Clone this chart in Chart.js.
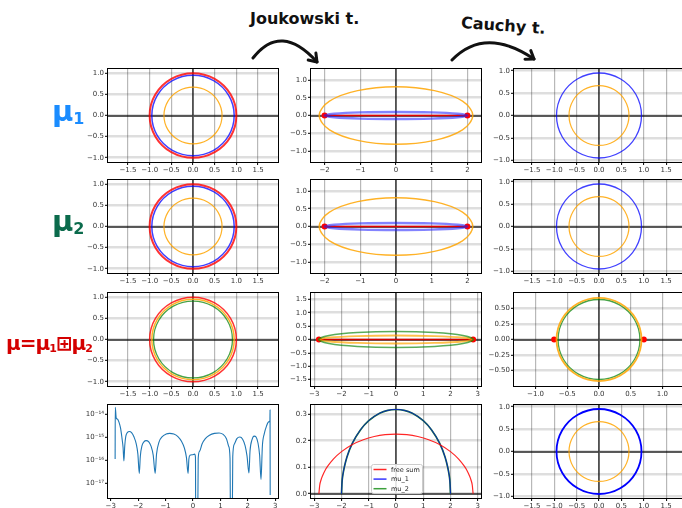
<!DOCTYPE html>
<html lang="en">
<head>
<meta charset="UTF-8">
<title>Joukowski and Cauchy transforms</title>
<script src="https://cdn.jsdelivr.net/npm/chart.js@4.4.1/dist/chart.umd.min.js"></script>
<style>
  html, body { margin: 0; padding: 0; background: #fff; }
  body { width: 682px; height: 508px; position: relative; overflow: hidden; }
  .panel { position: absolute; }
  .hand { position: absolute; font-family: "DejaVu Sans", sans-serif; font-weight: bold; white-space: nowrap; line-height: 1; }
  .hand sub { font-size: 0.55em; vertical-align: -0.2em; }
  #arrows { position: absolute; left: 0; top: 0; pointer-events: none; }
</style>
</head>
<body>
<div id="figure"></div>

<!-- hand written notes -->
<div class="hand" style="left:250px; top:11px; font-size:16px; color:#111;">Joukowski t.</div>
<div class="hand" style="left:461px; top:18px; font-size:16px; color:#111; transform:rotate(4deg);">Cauchy t.</div>
<div class="hand" style="left:52px; top:97px; font-size:29px; color:#1a8cff;">μ<sub>1</sub></div>
<div class="hand" style="left:52px; top:207px; font-size:29px; color:#0b6b4c;">μ<sub>2</sub></div>
<div class="hand" style="left:6px; top:333px; font-size:20px; color:#d40000; letter-spacing:-1px;">μ=μ<sub>1</sub>⊞μ<sub>2</sub></div>

<svg id="arrows" width="682" height="508">
  <g fill="none" stroke="#111" stroke-width="3" stroke-linecap="round" stroke-linejoin="round">
    <path d="M253,58 Q281,22 317,62" />
    <path d="M315.9,53.1 L317,62 L308.2,60" />
    <path d="M452,60 Q485,26 534,59" />
    <path d="M530.8,50.6 L534,59 L525,59.2" />
  </g>
</svg>

<script>
// ---------- values ----------
// closed curves are listed every 30 degrees, with one point of overlap at each end
// z-plane circles (columns 1 and 3)
const circle100 = [[0.866,-0.5],[1,0],[0.866,0.5],[0.5,0.866],[0,1],[-0.5,0.866],[-0.866,0.5],[-1,0],[-0.866,-0.5],[-0.5,-0.866],[0,-1],[0.5,-0.866],[0.866,-0.5],[1,0],[0.866,0.5]];
const circle095 = [[0.823,-0.475],[0.95,0],[0.823,0.475],[0.475,0.823],[0,0.95],[-0.475,0.823],[-0.823,0.475],[-0.95,0],[-0.823,-0.475],[-0.475,-0.823],[0,-0.95],[0.475,-0.823],[0.823,-0.475],[0.95,0],[0.823,0.475]];
const circle091 = [[0.788,-0.455],[0.91,0],[0.788,0.455],[0.455,0.788],[0,0.91],[-0.455,0.788],[-0.788,0.455],[-0.91,0],[-0.788,-0.455],[-0.455,-0.788],[0,-0.91],[0.455,-0.788],[0.788,-0.455],[0.91,0],[0.788,0.455]];
const circle067 = [[0.58,-0.335],[0.67,0],[0.58,0.335],[0.335,0.58],[0,0.67],[-0.335,0.58],[-0.58,0.335],[-0.67,0],[-0.58,-0.335],[-0.335,-0.58],[0,-0.67],[0.335,-0.58],[0.58,-0.335],[0.67,0],[0.58,0.335]];
const circle064 = [[0.559,-0.323],[0.645,0],[0.559,0.323],[0.323,0.559],[0,0.645],[-0.323,0.559],[-0.559,0.323],[-0.645,0],[-0.559,-0.323],[-0.323,-0.559],[0,-0.645],[0.323,-0.559],[0.559,-0.323],[0.645,0],[0.559,0.323]];

// Joukowski images (column 2)
const ellOrange1 = [[1.862,-0.405],[2.15,0],[1.862,0.405],[1.075,0.701],[0,0.81],[-1.075,0.701],[-1.862,0.405],[-2.15,0],[-1.862,-0.405],[-1.075,-0.701],[0,-0.81],[1.075,-0.701],[1.862,-0.405],[2.15,0],[1.862,0.405]];
const ellBlue1 = [[1.732,-0.05],[2,0],[1.732,0.05],[1,0.087],[0,0.1],[-1,0.087],[-1.732,0.05],[-2,0],[-1.732,-0.05],[-1,-0.087],[0,-0.1],[1,-0.087],[1.732,-0.05],[2,0],[1.732,0.05]];
const ellGreen3 = [[2.459,-0.15],[2.84,0],[2.459,0.15],[1.42,0.26],[0,0.3],[-1.42,0.26],[-2.459,0.15],[-2.84,0],[-2.459,-0.15],[-1.42,-0.26],[0,-0.3],[1.42,-0.26],[2.459,-0.15],[2.84,0],[2.459,0.15]];
const ellOrange3 = [[2.451,-0.075],[2.83,0],[2.451,0.075],[1.415,0.13],[0,0.15],[-1.415,0.13],[-2.451,0.075],[-2.83,0],[-2.451,-0.075],[-1.415,-0.13],[0,-0.15],[1.415,-0.13],[2.451,-0.075],[2.83,0],[2.451,0.075]];
const segment1 = [[-2,0],[2,0]];
const segment3 = [[-2.83,0],[2.83,0]];
const cauchyDots3 = [[-0.707,0],[0.707,0]];

// densities (row 4, column 2)
const densFree = [[-2.83,0],[-2.8,0.032],[-2.75,0.053],[-2.7,0.067],[-2.6,0.089],[-2.5,0.105],[-2.3,0.131],[-2.0,0.159],[-1.6,0.186],[-1.2,0.204],[-0.8,0.216],[-0.4,0.223],[0,0.225],[0.4,0.223],[0.8,0.216],[1.2,0.204],[1.6,0.186],[2.0,0.159],[2.3,0.131],[2.5,0.105],[2.6,0.089],[2.7,0.067],[2.75,0.053],[2.8,0.032],[2.83,0]];
const densMu1 = [[-2,0],[-1.98,0.045],[-1.95,0.071],[-1.9,0.099],[-1.8,0.139],[-1.6,0.191],[-1.3,0.242],[-1.0,0.276],[-0.6,0.304],[-0.3,0.315],[0,0.318],[0.3,0.315],[0.6,0.304],[1.0,0.276],[1.3,0.242],[1.6,0.191],[1.8,0.139],[1.9,0.099],[1.95,0.071],[1.98,0.045],[2,0]];
const densMu2 = [[-2,0],[-1.98,0.045],[-1.95,0.071],[-1.9,0.099],[-1.8,0.139],[-1.6,0.191],[-1.3,0.242],[-1.0,0.276],[-0.6,0.304],[-0.3,0.315],[0,0.318],[0.3,0.315],[0.6,0.304],[1.0,0.276],[1.3,0.242],[1.6,0.191],[1.8,0.139],[1.9,0.099],[1.95,0.071],[1.98,0.045],[2,0]];
const densLabels = ['free sum', 'mu_1', 'mu_2'];

// error curve (row 4, column 1, log scale)
const errCurve = [[-2.840,1.1e-16],[-2.835,2.0e-14],[-2.80,6.8e-15],[-2.75,6.0e-15],[-2.70,4.5e-15],[-2.64,2.4e-15],[-2.59,9e-16],[-2.55,3.5e-16],[-2.52,9e-17],[-2.49,4e-16],[-2.45,1.1e-15],[-2.39,1.6e-15],[-2.32,1.75e-15],[-2.24,1.55e-15],[-2.15,1.0e-15],[-2.07,5e-16],[-2.01,1.8e-16],[-1.96,2.6e-17],[-1.92,1.5e-16],[-1.86,4.2e-16],[-1.79,6.2e-16],[-1.71,7.0e-16],[-1.62,6.3e-16],[-1.53,4.0e-16],[-1.45,1.6e-16],[-1.38,2.6e-17],[-1.33,1.8e-16],[-1.24,6.0e-16],[-1.12,1.05e-15],[-0.98,1.35e-15],[-0.85,1.45e-15],[-0.70,1.35e-15],[-0.55,1.05e-15],[-0.42,6.5e-16],[-0.31,3.2e-16],[-0.24,1.3e-16],[-0.18,2.6e-17],[-0.15,1.1e-16],[-0.11,1.6e-16],[-0.02,1.7e-16],[0.06,1.8e-16],[0.09,1.3e-16],[0.10,1e-19],[0.17,1e-19],[0.19,1.2e-16],[0.24,2.4e-16],[0.33,5.0e-16],[0.45,8.5e-16],[0.60,1.2e-15],[0.78,1.45e-15],[0.95,1.5e-15],[1.10,1.3e-15],[1.22,8.5e-16],[1.30,4.0e-16],[1.35,1.2e-16],[1.37,1e-19],[1.43,1e-19],[1.45,1.4e-16],[1.51,5.0e-16],[1.60,8.5e-16],[1.71,1.0e-15],[1.81,8.0e-16],[1.90,4.2e-16],[1.97,1.5e-16],[2.04,2.7e-17],[2.08,2.5e-16],[2.15,7.5e-16],[2.23,1.1e-15],[2.30,1.0e-15],[2.37,5.5e-16],[2.43,1.6e-16],[2.48,1.4e-17],[2.53,4.0e-16],[2.60,1.4e-15],[2.68,3.0e-15],[2.76,4.6e-15],[2.805,5.2e-15],[2.81,1.5e-14],[2.815,3.0e-18]];

// tick values
const ticksZ = [-1.5,-1,-0.5,0,0.5,1,1.5];
const ticksUnit = [-1,-0.5,0,0.5,1];
const ticksInt2 = [-2,-1,0,1,2];
const ticksInt3 = [-3,-2,-1,0,1,2,3];
const ticksHalf15 = [-1.5,-1,-0.5,0,0.5,1,1.5];
const ticksDens = [0,0.1,0.2,0.3];
const ticksC3x = [-1,-0.5,0,0.5,1];
const ticksC3y = [-0.5,-0.25,0,0.25,0.5];
const ticksErr = [1e-17,1e-16,1e-15,1e-14];
const ticksErrLabels = ['10⁻¹⁷','10⁻¹⁶','10⁻¹⁵','10⁻¹⁴'];

// ---------- layout ----------
const COL_X = [108, 311, 514];
const ROW_Y = [69, 180, 293, 405];
const PLOT_W = 170, PLOT_H = 93;
const YW = 30, XH = 14, PAD = 6;

const RED = 'rgba(255,0,0,0.8)';
const BLUE = 'rgba(0,0,255,0.75)';
const ORANGE = 'rgba(255,165,0,0.85)';
const GREEN = 'rgba(0,128,0,0.72)';

function pts(arr) { return arr.map(p => ({ x: p[0], y: p[1] })); }
function curve(arr, color, width, extra) {
  return Object.assign({ data: pts(arr), showLine: true, borderColor: color, borderWidth: width,
    pointRadius: 0, tension: 0.35, fill: false }, extra || {});
}
// closed loop: the first and last segments only serve as overlap for the smoothing
function loop(arr, color, width) {
  const n = arr.length;
  return curve(arr, color, width, {
    segment: { borderColor: c => (c.p0DataIndex === 0 || c.p1DataIndex === n - 1) ? 'rgba(0,0,0,0)' : undefined }
  });
}
function dots(arr, color) {
  return { data: pts(arr), showLine: false, pointRadius: 3, backgroundColor: color, borderWidth: 0 };
}
function fmt(v, dec) { return v.toFixed(dec).replace('-', '\u2212'); }

// zero lines, frame and the small legend
const decoPlugin = {
  id: 'deco',
  beforeDatasetsDraw(chart, args, opts) {
    if (!opts.zero) return;
    const { ctx, chartArea: a, scales } = chart;
    const x0 = Math.round(scales.x.getPixelForValue(0)), y0 = Math.round(scales.y.getPixelForValue(0));
    ctx.save();
    ctx.strokeStyle = 'rgba(0,0,0,0.62)';
    ctx.lineWidth = 1.8;
    ctx.beginPath();
    ctx.moveTo(x0, a.top); ctx.lineTo(x0, a.bottom);
    ctx.moveTo(a.left, y0); ctx.lineTo(a.right, y0);
    ctx.stroke();
    ctx.restore();
  },
  afterDatasetsDraw(chart, args, opts) {
    const { ctx, chartArea: a } = chart;
    ctx.save();
    ctx.strokeStyle = '#000';
    ctx.lineWidth = 1;
    ctx.strokeRect(a.left - 0.5, a.top - 0.5, a.right - a.left + 1, a.bottom - a.top + 1);
    if (opts.legend) {
      const bx = a.left + 60, by = a.top + 59, w = 51, h = 29;
      ctx.fillStyle = 'rgba(255,255,255,0.85)';
      ctx.strokeStyle = '#cccccc';
      ctx.beginPath();
      ctx.roundRect(bx + 0.5, by + 0.5, w, h, 2);
      ctx.fill(); ctx.stroke();
      ctx.font = '6.5px "DejaVu Sans"';
      ctx.textBaseline = 'middle';
      chart.data.datasets.forEach((d, i) => {
        const yy = by + 5.5 + i * 9.6;
        ctx.strokeStyle = d.legendColor || d.borderColor;
        ctx.lineWidth = 1.5;
        ctx.beginPath(); ctx.moveTo(bx + 2.5, yy); ctx.lineTo(bx + 15.5, yy); ctx.stroke();
        ctx.fillStyle = '#222';
        ctx.fillText(d.label, bx + 20, yy + 0.5);
      });
    }
    ctx.restore();
  }
};

function panel(cfg) {
  const fig = document.getElementById('figure');
  const box = document.createElement('div');
  box.className = 'panel';
  const W = YW + PLOT_W + PAD, H = PAD + PLOT_H + XH;
  box.style.left = (COL_X[cfg.col] - YW) + 'px';
  box.style.top = (ROW_Y[cfg.row] - PAD) + 'px';
  const cv = document.createElement('canvas');
  cv.width = W; cv.height = H;
  cv.style.width = W + 'px'; cv.style.height = H + 'px';
  box.appendChild(cv);
  fig.appendChild(box);

  const tickFont = { family: 'DejaVu Sans', size: 7 };
  const xScale = {
    type: 'linear', min: cfg.x[0], max: cfg.x[1],
    afterBuildTicks: s => { s.ticks = cfg.xt.map(v => ({ value: v })); },
    afterFit: s => { s.height = XH; },
    ticks: { font: tickFont, color: '#333', padding: 1, maxRotation: 0, minRotation: 0, autoSkip: false,
      callback: v => fmt(v, cfg.xd) },
    grid: { color: 'rgba(0,0,0,0.28)', lineWidth: 1.2, drawOnChartArea: !cfg.log,
      tickColor: '#000', tickWidth: 1, tickLength: 3 },
    border: { display: false }
  };
  const yScale = {
    type: cfg.log ? 'logarithmic' : 'linear', min: cfg.y[0], max: cfg.y[1],
    afterBuildTicks: s => { s.ticks = cfg.yt.map(v => ({ value: v })); },
    afterFit: s => { s.width = YW; },
    ticks: { font: tickFont, color: '#333', padding: 1, autoSkip: false,
      callback: cfg.log ? ((v, i) => ticksErrLabels[i]) : (v => fmt(v, cfg.yd)) },
    grid: { color: 'rgba(0,0,0,0.13)', lineWidth: 2.6, drawOnChartArea: !cfg.log,
      tickColor: '#000', tickWidth: 1, tickLength: 3 },
    border: { display: false }
  };

  new Chart(cv, {
    type: 'scatter',
    data: { datasets: cfg.datasets },
    options: {
      responsive: false, animation: false, events: [],
      layout: { padding: { left: 0, top: PAD, right: PAD, bottom: 0 }, autoPadding: false },
      plugins: { legend: { display: false }, tooltip: { enabled: false },
        deco: { zero: !cfg.log, legend: !!cfg.legend } },
      scales: { x: xScale, y: yScale }
    },
    plugins: [decoPlugin]
  });
}

// rows 1 and 2 (mu_1 and mu_2 look the same)
[0, 1].forEach(row => {
  panel({ row, col: 0, x: [-1.96, 1.96], y: [-1.1, 1.1], xt: ticksZ, xd: 1, yt: ticksUnit, yd: 1,
    datasets: [loop(circle100, RED, 2), loop(circle095, BLUE, 1.5), loop(circle067, ORANGE, 1.2)] });
  panel({ row, col: 1, x: [-2.38, 2.38], y: [-1.31, 1.31], xt: ticksInt2, xd: 0, yt: ticksUnit, yd: 1,
    datasets: [loop(ellOrange1, ORANGE, 1.4), loop(ellBlue1, 'rgba(30,30,255,0.55)', 2.4),
      curve(segment1, 'rgb(230,0,0)', 1.5, { tension: 0 }), dots(segment1, 'rgb(255,0,0)')] });
  panel({ row, col: 2, x: [-1.9, 1.9], y: [-1.04, 1.04], xt: ticksZ, xd: 1, yt: ticksUnit, yd: 1,
    datasets: [loop(circle095, BLUE, 1.3), loop(circle067, ORANGE, 1.2)] });
});

// row 3: free convolution
panel({ row: 2, col: 0, x: [-1.96, 1.96], y: [-1.1, 1.1], xt: ticksZ, xd: 1, yt: ticksUnit, yd: 1,
  datasets: [loop(circle100, RED, 1.5), loop(circle095, ORANGE, 1.5), loop(circle091, GREEN, 1.3)] });
panel({ row: 2, col: 1, x: [-3.12, 3.12], y: [-1.74, 1.74], xt: ticksInt3, xd: 0, yt: ticksHalf15, yd: 1,
  datasets: [loop(ellGreen3, 'rgba(0,128,0,0.65)', 1.6), loop(ellOrange3, 'rgba(255,165,0,0.7)', 1.8),
    curve(segment3, 'rgb(210,0,0)', 1.5, { tension: 0 }), dots(segment3, 'rgb(255,0,0)')] });
panel({ row: 2, col: 2, x: [-1.34, 1.34], y: [-0.75, 0.75], xt: ticksC3x, xd: 1, yt: ticksC3y, yd: 2,
  datasets: [loop(circle067, ORANGE, 1.8), loop(circle064, GREEN, 1.3), dots(cauchyDots3, 'rgb(255,0,0)')] });

// row 4: error, densities, Cauchy image
panel({ row: 3, col: 0, log: true, x: [-3.1, 3.1], y: [2.2e-18, 2.5e-14], xt: ticksInt3, xd: 0, yt: ticksErr,
  datasets: [curve(errCurve, '#1f77b4', 1.1, { tension: 0, cubicInterpolationMode: 'monotone' })] });
panel({ row: 3, col: 1, legend: true, x: [-3.12, 3.12], y: [-0.016, 0.335], xt: ticksInt3, xd: 0, yt: ticksDens, yd: 1,
  datasets: [
    curve(densFree, 'rgba(255,0,0,0.85)', 1.2, { label: densLabels[0], tension: 0, cubicInterpolationMode: 'monotone' }),
    curve(densMu1, 'rgba(0,0,255,0.8)', 0.8, { label: densLabels[1], tension: 0, cubicInterpolationMode: 'monotone' }),
    curve(densMu2, 'rgb(25,115,50)', 1.7, { label: densLabels[2], legendColor: 'rgb(60,160,60)', tension: 0, cubicInterpolationMode: 'monotone' })
  ] });
panel({ row: 3, col: 2, x: [-1.9, 1.9], y: [-1.04, 1.04], xt: ticksZ, xd: 1, yt: ticksUnit, yd: 1,
  datasets: [loop(circle095, 'rgb(0,0,255)', 1.8), loop(circle067, ORANGE, 1.2)] });
</script>
</body>
</html>
